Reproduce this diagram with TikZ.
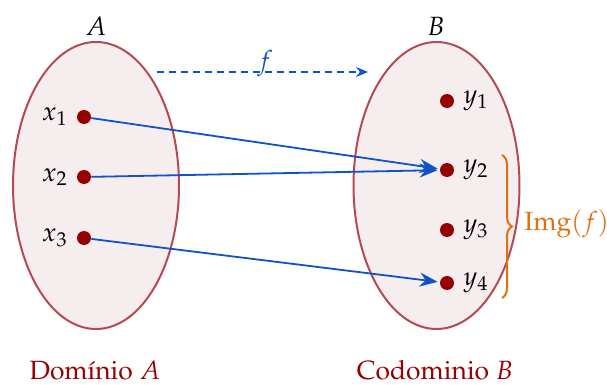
\documentclass[tikz,border=0pt]{standalone}
\usepackage[T1]{fontenc}
\usepackage{mathpazo}
\usepackage{xcolor}
\usepackage{tikz}
\usetikzlibrary{arrows.meta,positioning,decorations.pathreplacing}
\definecolor{setfill}{RGB}{246, 237, 238}
\definecolor{setborder}{RGB}{180, 75, 80}
\definecolor{dotred}{RGB}{150, 0, 0}
\definecolor{mapblue}{RGB}{16, 82, 200}
\definecolor{imgorange}{RGB}{224, 112, 16}

\begin{document}
\begin{tikzpicture}[x=0.5pt, y=-0.5pt, font=\fontsize{13.2}{16}\selectfont,
    pt/.style={circle, fill=dotred, inner sep=0pt, minimum size=7pt},
    maparrow/.style={-{Stealth[length=9pt, width=7pt]}, line width=0.9pt, color=mapblue, shorten >=1pt}]
    \useasboundingbox (0,0) rectangle (607,385);

    % Sets
    \draw[fill=setfill, draw=setborder, line width=1pt] (96,185.5) ellipse [x radius=83, y radius=143.5];
    \draw[fill=setfill, draw=setborder, line width=1pt] (436.5,185.5) ellipse [x radius=83, y radius=143.5];
    \node (setA) at (96,26) {$A$};
    \node (setB) at (436,26) {$B$};

    % Domain points
    \node[pt, label={[xshift=-1pt]left:$x_1$}] (x1) at (84,117) {};
    \node[pt, label={[xshift=-1pt]left:$x_2$}] (x2) at (84,177) {};
    \node[pt, label={[xshift=-1pt]left:$x_3$}] (x3) at (84,238) {};

    % Codomain points
    \node[pt, label={[xshift=1pt]right:$y_1$}] (y1) at (447,101) {};
    \node[pt, label={[xshift=1pt]right:$y_2$}] (y2) at (447,170) {};
    \node[pt, label={[xshift=1pt]right:$y_3$}] (y3) at (447,230) {};
    \node[pt, label={[xshift=1pt]right:$y_4$}] (y4) at (447,283) {};

    % Map f
    \coordinate (fstart) at (157,72);
    \coordinate (fend) at (368,72);
    \draw[-{Stealth[length=6pt, width=5pt]}, dash pattern=on 3.5pt off 2.5pt, color=mapblue, line width=0.6pt] (fstart) -- (fend);
    \node[color=mapblue] (flabel) at (265,64) {$f$};

    \draw[maparrow] (x1) -- (y2);
    \draw[maparrow] (x2) -- (y2);
    \draw[maparrow] (x3) -- (y4);

    % Image brace
    \coordinate (btop) at (502,155);
    \coordinate (bbot) at (502,298);
    \draw[imgorange, line width=1pt, decorate, decoration={brace, amplitude=5pt}] (btop) -- (bbot);
    \node[color=imgorange, anchor=west, inner sep=0pt] (img) at (524,224) {$\mathrm{Img}(f)$};

    % Captions
    \node[color=dotred, anchor=base, inner sep=0pt] (domA) at (95,380) {Dom\'{\i}nio $A$};
    \node[color=dotred, anchor=base, inner sep=0pt] (codB) at (435,380) {Codominio $B$};
\end{tikzpicture}
\end{document}
